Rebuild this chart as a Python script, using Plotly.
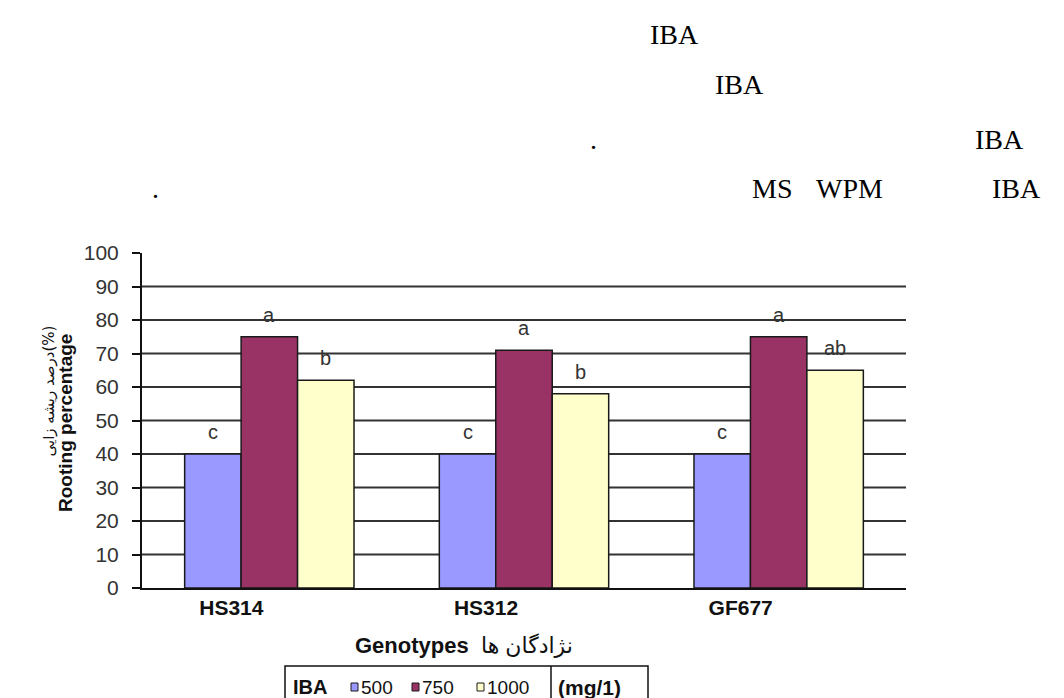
import plotly.graph_objects as go

# ---------------- data ----------------
genotypes = ["HS314", "HS312", "GF677"]
iba_levels = ["500", "750", "1000"]
rooting_500 = [40, 40, 40]
rooting_750 = [75, 71, 75]
rooting_1000 = [62, 58, 65]
letters_500 = ["c", "c", "c"]
letters_750 = ["a", "a", "a"]
letters_1000 = ["b", "b", "ab"]
y_ticks = [0, 10, 20, 30, 40, 50, 60, 70, 80, 90, 100]
grid_values = [10, 20, 30, 40, 50, 60, 70, 80, 90]

series_values = [rooting_500, rooting_750, rooting_1000]
series_letters = [letters_500, letters_750, letters_1000]
colors = ["#9999FF", "#993366", "#FFFFCC"]

# ---------------- layout geometry ----------------
W, H = 1064, 698
L, R, T, B = 134, 898, 245, 580
BARGAP = 0.335
SANS = "Liberation Sans, Arial, DejaVu Sans"


def px(xp):
    return (xp - L) / (R - L)


def py(yp):
    return (B - yp) / (B - T)


fig = go.Figure()
for name, vals, col in zip(iba_levels, series_values, colors):
    fig.add_trace(go.Bar(
        x=genotypes, y=vals, name=name, showlegend=False,
        marker=dict(color=col, line=dict(color="#1a1a1a", width=1.5)),
    ))

annotations = []
bw = (1 - BARGAP) / 3
for j, (vals, lets) in enumerate(zip(series_values, series_letters)):
    for i, (v, t) in enumerate(zip(vals, lets)):
        annotations.append(dict(
            x=i + (j - 1) * bw, y=v, xref="x", yref="y", text=t,
            showarrow=False, yanchor="middle", yshift=22,
            font=dict(family=SANS, size=20, color="#333"),
        ))

# y title (two rotated lines)
annotations.append(dict(
    x=px(40), y=py(316), xref="paper", yref="paper",
    text="درصد ریشه زایی(%)", textangle=-90, showarrow=False,
    xanchor="center", yanchor="top",
    font=dict(family="DejaVu Sans, Noto Sans", size=15, color="#111"),
))
annotations.append(dict(
    x=px(57), y=py(415), xref="paper", yref="paper",
    text="<b>Rooting percentage</b>", textangle=-90, showarrow=False,
    xanchor="center", yanchor="middle",
    font=dict(family=SANS, size=19, color="#111"),
))
# x title
annotations.append(dict(
    x=px(345), y=py(637), xref="paper", yref="paper",
    text="<b>Genotypes</b>  نژادگان ها",
    showarrow=False, xanchor="left", yanchor="middle",
    font=dict(family=SANS, size=22, color="#111"),
))

# ---------------- legend (drawn inside a bordered box) ----------------
LEG_Y = 679
annotations.append(dict(
    x=px(283), y=py(LEG_Y), xref="paper", yref="paper", text="<b>IBA</b>",
    showarrow=False, xanchor="left", yanchor="middle",
    font=dict(family=SANS, size=20, color="#111"),
))
annotations.append(dict(
    x=px(548), y=py(LEG_Y), xref="paper", yref="paper", text="<b>(mg/1)</b>",
    showarrow=False, xanchor="left", yanchor="middle",
    font=dict(family=SANS, size=21, color="#111"),
))
shapes = []
leg_x0 = [343, 404, 469]
for x0, name, col in zip(leg_x0, iba_levels, colors):
    shapes.append(dict(
        type="rect", xref="paper", yref="paper",
        x0=px(x0), x1=px(x0 + 7), y0=py(LEG_Y + 4), y1=py(LEG_Y - 4),
        fillcolor=col, line=dict(color="#1a1a1a", width=1),
    ))
    annotations.append(dict(
        x=px(x0 + 8), y=py(LEG_Y), xref="paper", yref="paper", text=name,
        showarrow=False, xanchor="left", yanchor="middle",
        font=dict(family=SANS, size=19, color="#111"),
    ))
shapes.append(dict(
    type="rect", xref="paper", yref="paper",
    x0=px(277), x1=px(640), y0=py(658), y1=py(705),
    line=dict(color="#111", width=1.5),
))
shapes.append(dict(
    type="line", xref="paper", yref="paper",
    x0=px(543), x1=px(543), y0=py(658), y1=py(705),
    line=dict(color="#111", width=1.5),
))

# ---------------- surrounding document text (Times) ----------------
doc_font = dict(family="Liberation Serif, Times New Roman", size=28, color="black")
doc_text = [
    ("IBA", 640, 26),
    ("IBA", 705, 76),
    (".", 580, 131),
    ("IBA", 965, 131),
    (".", 142, 180),
    ("MS", 742, 180),
    ("WPM", 806, 180),
    ("IBA", 982, 180),
]
for t, xx, yy in doc_text:
    annotations.append(dict(
        x=px(xx), y=py(yy), xref="paper", yref="paper", text=t,
        showarrow=False, xanchor="left", yanchor="middle", font=doc_font,
    ))

for g in grid_values:
    shapes.append(dict(
        type="line", xref="paper", yref="y", x0=0, x1=1, y0=g, y1=g,
        line=dict(color="#333", width=2), layer="below",
    ))

fig.update_layout(
    width=W, height=H,
    margin=dict(l=L, r=W - R, t=T, b=H - B, pad=0),
    paper_bgcolor="white", plot_bgcolor="white",
    barmode="group", bargap=BARGAP, bargroupgap=0,
    showlegend=False,
    annotations=annotations,
    shapes=shapes,
    xaxis=dict(
        showline=True, linecolor="#111", linewidth=2, ticks="",
        showgrid=False, ticklabelshift=-38,
        tickfont=dict(family=SANS, size=21, color="#111", weight="bold"),
    ),
    yaxis=dict(
        range=[0, 100], tickvals=y_ticks, showgrid=False, zeroline=False,
        showline=True, linecolor="#111", linewidth=2,
        ticks="outside", ticklen=8, tickwidth=2, tickcolor="#111",
        ticklabelstandoff=9,
        tickfont=dict(family=SANS, size=21, color="#333"),
    ),
)

fig.write_html("out.html")
